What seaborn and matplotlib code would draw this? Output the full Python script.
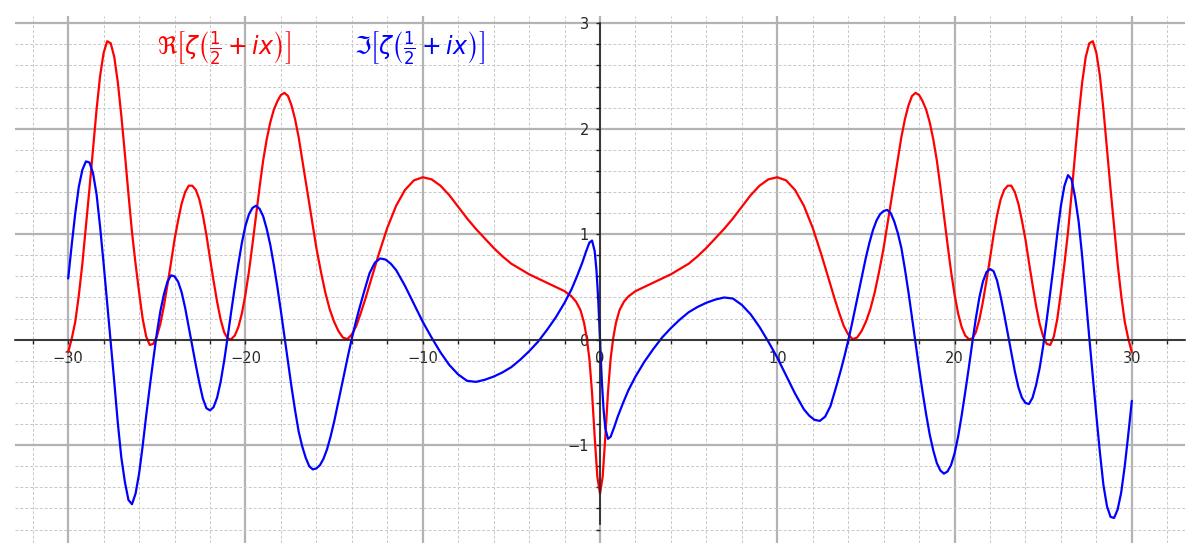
import matplotlib
matplotlib.use("Agg")
import matplotlib.pyplot as plt
import seaborn as sns
import pandas as pd
from matplotlib.ticker import MultipleLocator

## values

# real part of zeta(1/2 + ix), left half
re_x_neg = [-30.0, -29.8, -29.6, -29.4, -29.2, -29.0, -28.8, -28.6, -28.4, -28.2, -28.0, -27.8, -27.6, -27.4,
            -27.2, -27.0, -26.8, -26.6, -26.4, -26.2, -26.0, -25.8, -25.6, -25.4, -25.2, -25.0, -24.8, -24.6,
            -24.4, -24.2, -24.0, -23.8, -23.6, -23.4, -23.2, -23.0, -22.8, -22.6, -22.4, -22.2, -22.0, -21.8,
            -21.6, -21.4, -21.2, -21.0, -20.8, -20.6, -20.4, -20.2, -20.0, -19.8, -19.6, -19.4, -19.2, -19.0,
            -18.8, -18.6, -18.4, -18.2, -18.0, -17.8, -17.6, -17.4, -17.2, -17.0, -16.8, -16.6, -16.4, -16.2,
            -16.0, -15.75, -15.5, -15.25, -15.0, -14.75, -14.5, -14.25, -14.0, -13.75, -13.5, -13.25, -13.0,
            -12.5, -12.0, -11.5, -11.0, -10.5, -10.0, -9.5, -9.0, -8.5, -8.0, -7.5, -7.0, -6.5, -6.0, -5.5,
            -5.0, -4.5, -4.0, -3.5, -3.0, -2.5, -2.0, -1.6, -1.35, -1.1, -0.9, -0.75, -0.6, -0.45, -0.3, -0.15]
re_neg = [-0.12, 0.01, 0.17, 0.42, 0.72, 1.07, 1.43, 1.80, 2.18, 2.50, 2.72, 2.83, 2.81, 2.68,
          2.44, 2.12, 1.76, 1.38, 1.02, 0.72, 0.45, 0.20, 0.03, -0.05, -0.04, 0.03, 0.15, 0.32,
          0.52, 0.73, 0.95, 1.13, 1.29, 1.40, 1.46, 1.46, 1.42, 1.33, 1.18, 0.99, 0.77, 0.56,
          0.36, 0.19, 0.07, 0.01, 0.005, 0.04, 0.12, 0.25, 0.43, 0.65, 0.91, 1.18, 1.45, 1.70,
          1.90, 2.06, 2.18, 2.26, 2.32, 2.34, 2.31, 2.22, 2.09, 1.92, 1.71, 1.50, 1.29, 1.08,
          0.87, 0.65, 0.45, 0.29, 0.17, 0.08, 0.02, 0.005, 0.05, 0.13, 0.25, 0.38, 0.52,
          0.80, 1.06, 1.27, 1.42, 1.51, 1.54, 1.52, 1.46, 1.37, 1.26, 1.15, 1.05, 0.96, 0.87, 0.79,
          0.72, 0.67, 0.62, 0.58, 0.54, 0.50, 0.46, 0.41, 0.36, 0.28, 0.16, 0.02, -0.18, -0.50, -0.92, -1.30]

# real part, right half (from x = 0)
re_x_pos = [0.0, 0.15, 0.3, 0.45, 0.6, 0.75, 0.9, 1.1, 1.35, 1.6,
            2.0, 2.5, 3.0, 3.5, 4.0, 4.5, 5.0, 5.5, 6.0, 6.5, 7.0, 7.5, 8.0, 8.5, 9.0, 9.5, 10.0, 10.5,
            11.0, 11.5, 12.0, 12.5, 13.0, 13.25, 13.5, 13.75, 14.0, 14.25, 14.5, 14.75, 15.0, 15.25, 15.5,
            15.75, 16.0, 16.2, 16.4, 16.6, 16.8, 17.0, 17.2, 17.4, 17.6, 17.8, 18.0, 18.2, 18.4, 18.6, 18.8,
            19.0, 19.2, 19.4, 19.6, 19.8, 20.0, 20.2, 20.4, 20.6, 20.8, 21.0, 21.2, 21.4, 21.6, 21.8, 22.0,
            22.2, 22.4, 22.6, 22.8, 23.0, 23.2, 23.4, 23.6, 23.8, 24.0, 24.2, 24.4, 24.6, 24.8, 25.0, 25.2,
            25.4, 25.6, 25.8, 26.0, 26.2, 26.4, 26.6, 26.8, 27.0, 27.2, 27.4, 27.6, 27.8, 28.0, 28.2, 28.4,
            28.6, 28.8, 29.0, 29.2, 29.4, 29.6, 29.8, 30.0]
re_pos = [-1.46, -1.30, -0.92, -0.50, -0.18, 0.02, 0.16, 0.28, 0.36, 0.41,
          0.46, 0.50, 0.54, 0.58, 0.62, 0.67, 0.72, 0.79, 0.87, 0.96, 1.05, 1.15, 1.26, 1.37, 1.46, 1.52, 1.54, 1.51,
          1.42, 1.27, 1.06, 0.80, 0.52, 0.38, 0.25, 0.13, 0.05, 0.005, 0.02, 0.08, 0.17, 0.29, 0.45,
          0.65, 0.87, 1.08, 1.29, 1.50, 1.71, 1.92, 2.09, 2.22, 2.31, 2.34, 2.32, 2.26, 2.18, 2.06, 1.90,
          1.70, 1.45, 1.18, 0.91, 0.65, 0.43, 0.25, 0.12, 0.04, 0.005, 0.01, 0.07, 0.19, 0.36, 0.56, 0.77,
          0.99, 1.18, 1.33, 1.42, 1.46, 1.46, 1.40, 1.29, 1.13, 0.95, 0.73, 0.52, 0.32, 0.15, 0.03, -0.04,
          -0.05, 0.03, 0.20, 0.45, 0.72, 1.02, 1.38, 1.76, 2.12, 2.44, 2.68, 2.81, 2.83, 2.72, 2.50, 2.18,
          1.80, 1.43, 1.07, 0.72, 0.42, 0.17, 0.01, -0.12]

# imaginary part of zeta(1/2 + ix), left half
im_x_neg = [-30.0, -29.8, -29.6, -29.4, -29.2, -29.0, -28.8, -28.6, -28.4, -28.2, -28.0, -27.8, -27.6, -27.4,
            -27.2, -27.0, -26.8, -26.6, -26.4, -26.2, -26.0, -25.8, -25.6, -25.4, -25.2, -25.0, -24.8, -24.6,
            -24.4, -24.2, -24.0, -23.8, -23.6, -23.4, -23.2, -23.0, -22.8, -22.6, -22.4, -22.2, -22.0, -21.8,
            -21.6, -21.4, -21.2, -21.0, -20.8, -20.6, -20.4, -20.2, -20.0, -19.8, -19.6, -19.4, -19.2, -19.0,
            -18.8, -18.6, -18.4, -18.2, -18.0, -17.8, -17.6, -17.4, -17.2, -17.0, -16.8, -16.6, -16.4, -16.2,
            -16.0, -15.8, -15.6, -15.4, -15.2, -15.0, -14.8, -14.6, -14.4, -14.2, -14.0,
            -13.8, -13.6, -13.3, -13.0, -12.7, -12.4, -12.1, -11.8, -11.5,
            -11.0, -10.5, -10.0, -9.5, -9.0, -8.5, -8.0, -7.5, -7.0, -6.5, -6.0, -5.5, -5.0, -4.5, -4.0, -3.5,
            -3.0, -2.5, -2.0, -1.6, -1.3, -1.0, -0.8, -0.6, -0.45, -0.3, -0.2, -0.1]
im_neg = [0.58, 0.90, 1.20, 1.45, 1.61, 1.69, 1.68, 1.58, 1.38, 1.07, 0.72, 0.35, -0.02, -0.40,
          -0.79, -1.12, -1.35, -1.52, -1.56, -1.46, -1.27, -1.01, -0.72, -0.45, -0.19, 0.06, 0.27, 0.43,
          0.55, 0.61, 0.60, 0.55, 0.45, 0.30, 0.12, -0.06, -0.24, -0.41, -0.56, -0.65, -0.67, -0.64,
          -0.55, -0.40, -0.20, 0.03, 0.27, 0.50, 0.72, 0.92, 1.08, 1.19, 1.25, 1.27, 1.24, 1.17,
          1.05, 0.90, 0.71, 0.50, 0.27, 0.03, -0.21, -0.45, -0.67, -0.87, -1.01, -1.12, -1.20, -1.23,
          -1.22, -1.19, -1.13, -1.04, -0.92, -0.78, -0.62, -0.46, -0.30, -0.14, 0.01,
          0.15, 0.28, 0.46, 0.63, 0.73, 0.77, 0.76, 0.72, 0.66,
          0.51, 0.34, 0.17, 0.02, -0.12, -0.24, -0.33, -0.39, -0.40, -0.38, -0.35, -0.31, -0.26, -0.19, -0.11, -0.02,
          0.09, 0.21, 0.35, 0.48, 0.60, 0.73, 0.83, 0.92, 0.94, 0.84, 0.66, 0.38]

# imaginary part, right half (from x = 0)
im_x_pos = [0.0, 0.1, 0.2, 0.3, 0.45, 0.6, 0.8, 1.0, 1.3, 1.6, 2.0,
            2.5, 3.0, 3.5, 4.0, 4.5, 5.0, 5.5, 6.0, 6.5, 7.0, 7.5, 8.0, 8.5, 9.0, 9.5, 10.0, 10.5, 11.0,
            11.5, 11.8, 12.1, 12.4, 12.7, 13.0, 13.3, 13.6, 13.8,
            14.0, 14.2, 14.4, 14.6, 14.8, 15.0, 15.2, 15.4, 15.6, 15.8, 16.0, 16.2, 16.4, 16.6, 16.8, 17.0,
            17.2, 17.4, 17.6, 17.8, 18.0, 18.2, 18.4, 18.6, 18.8, 19.0, 19.2, 19.4, 19.6, 19.8, 20.0, 20.2,
            20.4, 20.6, 20.8, 21.0, 21.2, 21.4, 21.6, 21.8, 22.0, 22.2, 22.4, 22.6, 22.8, 23.0, 23.2, 23.4,
            23.6, 23.8, 24.0, 24.2, 24.4, 24.6, 24.8, 25.0, 25.2, 25.4, 25.6, 25.8, 26.0, 26.2, 26.4, 26.6,
            26.8, 27.0, 27.2, 27.4, 27.6, 27.8, 28.0, 28.2, 28.4, 28.6, 28.8, 29.0, 29.2, 29.4, 29.6, 29.8,
            30.0]
im_pos = [0.0, -0.38, -0.66, -0.84, -0.94, -0.92, -0.83, -0.73, -0.60, -0.48, -0.35,
          -0.21, -0.09, 0.02, 0.11, 0.19, 0.26, 0.31, 0.35, 0.38, 0.40, 0.39, 0.33, 0.24, 0.12, -0.02, -0.17, -0.34, -0.51,
          -0.66, -0.72, -0.76, -0.77, -0.73, -0.63, -0.46, -0.28, -0.15,
          -0.01, 0.14, 0.30, 0.46, 0.62, 0.78, 0.92, 1.04, 1.13, 1.19, 1.22, 1.23, 1.20, 1.12, 1.01, 0.87,
          0.67, 0.45, 0.21, -0.03, -0.27, -0.50, -0.71, -0.90, -1.05, -1.17, -1.24, -1.27, -1.25, -1.19, -1.08, -0.92,
          -0.72, -0.50, -0.27, -0.03, 0.20, 0.40, 0.55, 0.64, 0.67, 0.65, 0.56, 0.41, 0.24, 0.06, -0.12, -0.30,
          -0.45, -0.55, -0.60, -0.61, -0.55, -0.43, -0.27, -0.06, 0.19, 0.45, 0.72, 1.01, 1.27, 1.46, 1.56, 1.52,
          1.35, 1.12, 0.79, 0.40, 0.02, -0.35, -0.72, -1.07, -1.38, -1.58, -1.68, -1.69, -1.61, -1.45, -1.20, -0.90,
          -0.58]

x_ticks = [-30, -20, -10, 0, 10, 20, 30]
x_tick_labels = ["\u221230", "\u221220", "\u221210", "0", "10", "20", "30"]
y_ticks = [-1, 0, 1, 2, 3]
y_tick_labels = ["\u22121", "0", "1", "2", "3"]

re_label = r"$\Re\left[\zeta\left(\frac{1}{2}+ix\right)\right]$"
im_label = r"$\Im\left[\zeta\left(\frac{1}{2}+ix\right)\right]$"

sns.set_style("white")

fig = plt.figure(figsize=(12, 5.58), dpi=100)
ax = fig.add_axes([0.0125, 0.027, 0.975, 0.944])

reDf = pd.DataFrame({"x": re_x_neg + re_x_pos, "value": re_neg + re_pos})
imDf = pd.DataFrame({"x": im_x_neg + im_x_pos, "value": im_neg + im_pos})
sns.lineplot(data=reDf, x="x", y="value", color="#ff0000", lw=1.6, estimator=None, sort=False, ax=ax)
sns.lineplot(data=imDf, x="x", y="value", color="#0000ff", lw=1.6, estimator=None, sort=False, ax=ax)

ax.set_xlim(-33, 33)
ax.set_ylim(-1.927, 3.067)
ax.set_xlabel("")
ax.set_ylabel("")

# ticks and grid
ax.set_xticks(x_ticks)
ax.set_xticklabels(x_tick_labels)
ax.set_yticks(y_ticks)
ax.set_yticklabels(y_tick_labels)
ax.xaxis.set_minor_locator(MultipleLocator(2))
ax.yaxis.set_minor_locator(MultipleLocator(0.2))
ax.tick_params(which="both", direction="out", length=3, width=1, color="#222222",
               labelsize=10.5, pad=5, bottom=True, left=True)
ax.grid(which="major", color="#b3b3b3", lw=1.6)
ax.grid(which="minor", color="#c8c8c8", lw=0.7, ls=(0, (3, 2)))
ax.set_axisbelow(True)

# axes through the origin
for side in ["top", "right"]:
    ax.spines[side].set_visible(False)
ax.spines["left"].set_position(("data", 0))
ax.spines["bottom"].set_position(("data", 0))
ax.spines["left"].set_bounds(-1.75, 3.0)
for side in ["left", "bottom"]:
    ax.spines[side].set_color("#222222")
    ax.spines[side].set_linewidth(1.2)
    ax.spines[side].set_zorder(2.5)

# legend text
ax.text(-25.0, 2.77, re_label, color="#ff0000", fontsize=17, va="center", ha="left")
ax.text(-13.86, 2.77, im_label, color="#0000ff", fontsize=17, va="center", ha="left")

fig.savefig("out.png", dpi=100)
